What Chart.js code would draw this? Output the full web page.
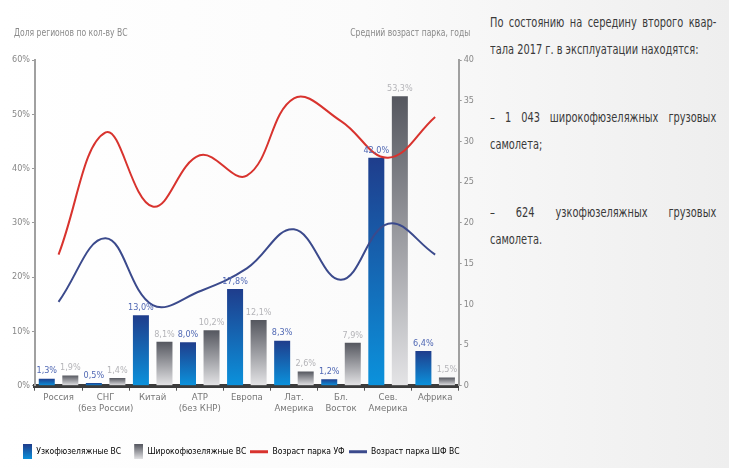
<!DOCTYPE html>
<html lang="ru">
<head>
<meta charset="utf-8">
<script src="https://cdn.jsdelivr.net/npm/chart.js@4"></script>
<style>
  html, body { margin: 0; padding: 0; }
  body {
    width: 729px; height: 468px; position: relative; overflow: hidden;
    background: linear-gradient(to right, #ffffff 0%, #fbfbfb 50%, #eeeeee 100%);
    font-family: 'DejaVu Sans Condensed', 'Liberation Sans', sans-serif;
  }
  #wrap { position: absolute; left: 0; top: 0; width: 480px; height: 468px; }
  .axis-title { position: absolute; top: 27px; font-size: 10px; color: #8a8a8a; white-space: nowrap; transform: scaleX(0.85); }
  #note {
    position: absolute; left: 490px; top: 9px; width: 290px;
    font-size: 14px; line-height: 27px; color: #3a3a3a;
    transform: scaleX(0.78); transform-origin: 0 0;
  }
  #note span { display: block; text-align: justify; text-align-last: justify; }
  #note span.end { text-align-last: left; }
  #note .gap { height: 41px; }
</style>
</head>
<body>
<div id="wrap"><canvas id="chart" width="480" height="468"></canvas></div>
<div class="axis-title" style="left:14px;transform-origin:0 0">Доля регионов по кол-ву ВС</div>
<div class="axis-title" style="right:259px;transform-origin:100% 0">Средний возраст парка, годы</div>
<div id="note">
  <span>По состоянию на середину второго квар-</span>
  <span class="end">тала 2017 г. в эксплуатации находятся:</span>
  <div class="gap"></div>
  <span>– 1 043 широкофюзеляжных грузовых</span>
  <span class="end">самолета;</span>
  <div class="gap"></div>
  <span>– 624 узкофюзеляжных грузовых</span>
  <span class="end">самолета.</span>
</div>
<script>
const regions = [['Россия'], ['СНГ', '(без России)'], ['Китай'], ['АТР', '(без КНР)'], ['Европа'],
  ['Лат.', 'Америка'], ['Бл.', 'Восток'], ['Сев.', 'Америка'], ['Африка']];
const narrowShare = [1.3, 0.5, 13.0, 8.0, 17.8, 8.3, 1.2, 42.0, 6.4];
const wideShare = [1.9, 1.4, 8.1, 10.2, 12.1, 2.6, 7.9, 53.3, 1.5];
const narrowAge = [16.1, 31.1, 22.0, 28.3, 25.8, 35.3, 32.5, 28.0, 33.0];
const wideAge = [10.3, 18.1, 9.9, 11.6, 14.4, 19.2, 13.0, 19.9, 16.1];
const seriesNames = ['Узкофюзеляжные ВС', 'Широкофюзеляжные ВС', 'Возраст парка УФ', 'Возраст парка ШФ ВС'];

const FONT = "'DejaVu Sans Condensed', 'Liberation Sans', sans-serif";

// gradient per bar, from its top down to the axis
function barGradient(top, bottom) {
  return function (ctx) {
    const chart = ctx.chart;
    if (!chart.chartArea || ctx.raw === undefined) return top;
    const y = chart.scales.y;
    const g = chart.ctx.createLinearGradient(0, y.getPixelForValue(ctx.raw), 0, y.getPixelForValue(0));
    g.addColorStop(0, top);
    g.addColorStop(1, bottom);
    return g;
  };
}

function legendIcon(kind, color, color2) {
  const c = document.createElement('canvas');
  c.width = 18; c.height = 15;
  const x = c.getContext('2d');
  if (kind === 'bar') {
    const g = x.createLinearGradient(0, 0, 0, 15);
    g.addColorStop(0, color); g.addColorStop(1, color2);
    x.fillStyle = g;
    x.fillRect(9, 0, 9, 15);
  } else {
    x.fillStyle = color;
    x.fillRect(0, 6, 18, 3);
  }
  return c;
}
const icons = [
  legendIcon('bar', '#1f3d8c', '#0b92dc'),
  legendIcon('bar', '#55575f', '#e4e4e6'),
  legendIcon('line', '#d8332e'),
  legendIcon('line', '#3b4a8c')
];

const barLabels = {
  id: 'barLabels',
  afterDatasetsDraw(chart) {
    const c = chart.ctx;
    c.save();
    c.font = '9px ' + FONT;
    c.textAlign = 'center';
    c.textBaseline = 'bottom';
    [2, 3].forEach(function (di) {
      const meta = chart.getDatasetMeta(di);
      c.fillStyle = di === 2 ? '#5068b4' : '#b4b4b8';
      meta.data.forEach(function (bar, i) {
        const v = chart.data.datasets[di].data[i];
        c.fillText(v.toFixed(1).replace('.', ',') + '%', bar.x, bar.y - 3);
      });
    });
    c.restore();
  }
};

new Chart(document.getElementById('chart'), {
  data: {
    labels: regions,
    datasets: [
      { type: 'line', label: seriesNames[2], data: narrowAge, yAxisID: 'y1', borderColor: '#d8332e',
        borderWidth: 2, tension: 0.4, pointRadius: 0, order: 1 },
      { type: 'line', label: seriesNames[3], data: wideAge, yAxisID: 'y1', borderColor: '#3b4a8c',
        borderWidth: 2, tension: 0.4, pointRadius: 0, order: 1 },
      { type: 'bar', label: seriesNames[0], data: narrowShare, yAxisID: 'y',
        backgroundColor: barGradient('#1f3d8c', '#0b92dc'), barPercentage: 0.68, categoryPercentage: 1, order: 2 },
      { type: 'bar', label: seriesNames[1], data: wideShare, yAxisID: 'y',
        backgroundColor: barGradient('#55575f', '#e4e4e6'), barPercentage: 0.68, categoryPercentage: 1, order: 2 }
    ]
  },
  options: {
    responsive: false,
    animation: false,
    layout: { padding: { left: 10, right: 4, top: 60, bottom: 2 } },
    scales: {
      x: {
        offset: true,
        grid: { display: true, drawOnChartArea: false, tickLength: 5, color: '#555', offset: true },
        border: { display: true, color: '#3c3c3c', width: 4, dash: [7, 3] },
        ticks: { color: '#777', maxRotation: 0, autoSkip: false, padding: 1, font: { family: FONT, size: 9.5 } },
        afterFit: function (scale) { scale.height += 28; }
      },
      y: {
        position: 'left', min: 0, max: 60,
        grid: { drawOnChartArea: false, tickLength: 3, color: '#999' },
        border: { color: '#a0a0a0', width: 2 },
        ticks: { stepSize: 10, color: '#888', padding: 2, font: { family: FONT, size: 9 },
          callback: function (v) { return v + '%'; } }
      },
      y1: {
        position: 'right', min: 0, max: 40,
        grid: { drawOnChartArea: false, tickLength: 3, color: '#999' },
        border: { color: '#a0a0a0', width: 2 },
        ticks: { stepSize: 5, color: '#888', padding: 2, font: { family: FONT, size: 9 } }
      }
    },
    plugins: {
      tooltip: { enabled: false },
      legend: {
        position: 'bottom',
        align: 'start',
        labels: {
          usePointStyle: true,
          pointStyleWidth: 18,
          boxHeight: 15,
          padding: 4,
          color: '#777',
          font: { family: FONT, size: 8.5 },
          generateLabels: function (chart) {
            return [2, 3, 0, 1].map(function (di, k) {
              return { text: chart.data.datasets[di].label, pointStyle: icons[k], datasetIndex: di,
                fillStyle: 'transparent', strokeStyle: 'transparent', lineWidth: 0 };
            });
          }
        }
      }
    }
  },
  plugins: [barLabels]
});
</script>
</body>
</html>
